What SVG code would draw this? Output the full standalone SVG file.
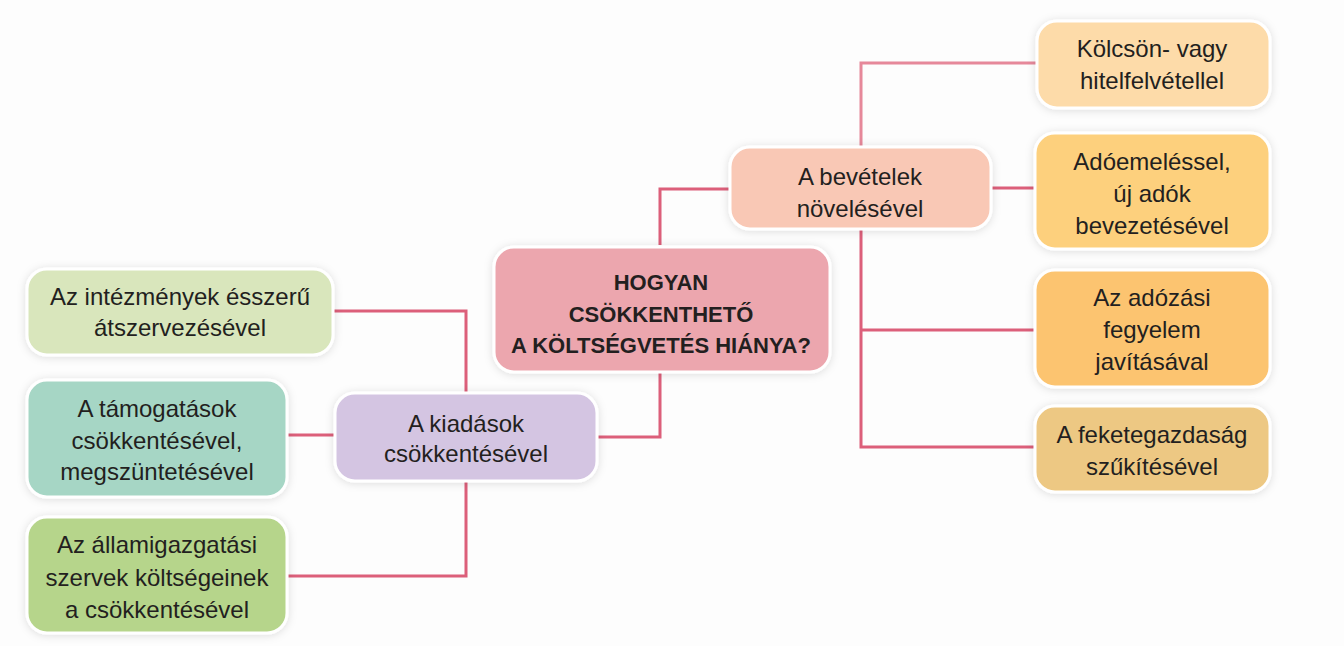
<svg xmlns="http://www.w3.org/2000/svg" width="1344" height="646" viewBox="0 0 1344 646">
<style>
.n{stroke:#ffffff;stroke-width:3;filter:url(#sh)}
.t{font-family:"Liberation Sans",Arial,sans-serif;font-size:24px;fill:#231f20;text-anchor:middle}
.b{font-weight:bold;font-size:22px}
.c{fill:none;stroke:#dc5f7a;stroke-width:3}
</style>
<defs>
<filter id="sh" x="-20%" y="-30%" width="140%" height="160%">
<feDropShadow dx="0" dy="1" stdDeviation="4" flood-color="#000" flood-opacity="0.13"/>
</filter>
</defs>
<rect width="1344" height="646" fill="#fdfdfd"/>
<g id="connectors">
<path class="c" d="M660 245 V189 H730"/>
<path class="c" d="M660 372 V437 H597"/>
<path class="c" d="M991 188 H1036"/>
<path class="c" d="M861 146 V63 H1037" style="stroke:#e6889a"/>
<path class="c" d="M861 229 V447 H1036"/>
<path class="c" d="M861 330 H1036"/>
<path class="c" d="M466 393 V311 H333"/>
<path class="c" d="M335 435 H288"/>
<path class="c" d="M466 481 V576 H288"/>
</g>
<g id="center">
<rect class="n" x="494" y="247" width="336" height="125" rx="20" fill="#eca6ae"/>
<text class="t b" x="661" y="290">HOGYAN</text>
<text class="t b" x="661" y="322">CSÖKKENTHETŐ</text>
<text class="t b" x="661" y="353">A KÖLTSÉGVETÉS HIÁNYA?</text>
</g>
<g id="bevetelek">
<rect class="n" x="730" y="147" width="261" height="82" rx="20" fill="#f9c8b5"/>
<text class="t" x="860" y="185">A bevételek</text>
<text class="t" x="860" y="217">növelésével</text>
</g>
<g id="kolcson">
<rect class="n" x="1037" y="21" width="233" height="87" rx="20" fill="#fddba9"/>
<text class="t" x="1152" y="57">Kölcsön- vagy</text>
<text class="t" x="1152" y="89">hitelfelvétellel</text>
</g>
<g id="adoemeles">
<rect class="n" x="1035" y="133" width="235" height="116" rx="20" fill="#fdd07d"/>
<text class="t" x="1152" y="170">Adóemeléssel,</text>
<text class="t" x="1152" y="202">új adók</text>
<text class="t" x="1152" y="234">bevezetésével</text>
</g>
<g id="adozasi">
<rect class="n" x="1035" y="270" width="235" height="117" rx="20" fill="#fcc470"/>
<text class="t" x="1152" y="306">Az adózási</text>
<text class="t" x="1152" y="338">fegyelem</text>
<text class="t" x="1152" y="370">javításával</text>
</g>
<g id="fekete">
<rect class="n" x="1035" y="406" width="235" height="86" rx="20" fill="#edc883"/>
<text class="t" x="1152" y="443">A feketegazdaság</text>
<text class="t" x="1152" y="475">szűkítésével</text>
</g>
<g id="kiadasok">
<rect class="n" x="335" y="393" width="262" height="88" rx="20" fill="#d4c5e2"/>
<text class="t" x="466" y="432">A kiadások</text>
<text class="t" x="466" y="462">csökkentésével</text>
</g>
<g id="intezmenyek">
<rect class="n" x="27" y="269" width="306" height="86" rx="20" fill="#d9e6bc"/>
<text class="t" x="180" y="305">Az intézmények ésszerű</text>
<text class="t" x="180" y="336">átszervezésével</text>
</g>
<g id="tamogatasok">
<rect class="n" x="27" y="380" width="260" height="117" rx="20" fill="#a6d6c5"/>
<text class="t" x="157" y="417">A támogatások</text>
<text class="t" x="157" y="449">csökkentésével,</text>
<text class="t" x="157" y="480">megszüntetésével</text>
</g>
<g id="allamig">
<rect class="n" x="27" y="517" width="260" height="116" rx="20" fill="#b6d58b"/>
<text class="t" x="157" y="553">Az államigazgatási</text>
<text class="t" x="157" y="586">szervek költségeinek</text>
<text class="t" x="157" y="618">a csökkentésével</text>
</g>
</svg>
